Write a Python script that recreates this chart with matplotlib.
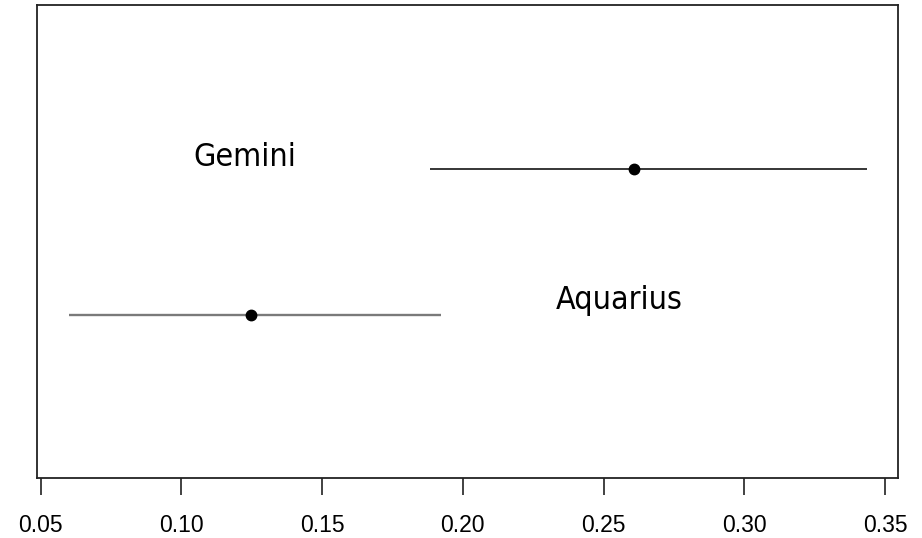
import matplotlib
matplotlib.use("Agg")
import matplotlib.pyplot as plt

# interval estimates per sign
signs = ["Gemini", "Aquarius"]
estimates = [0.2608, 0.1248]
lower = [0.1883, 0.0602]
upper = [0.3435, 0.1922]
rows = [2, 1]
line_colors = ["#000000", "#7a7a7a"]
line_widths = [1.1, 1.7]

# label positions (data coords)
label_x = [0.1225, 0.2555]
label_y = [2.08, 1.1]

ticks = [0.05, 0.10, 0.15, 0.20, 0.25, 0.30, 0.35]

fig = plt.figure(figsize=(9.22, 5.38), dpi=100)
ax = fig.add_axes([37 / 922, 1 - 478 / 538, (898 - 37) / 922, (478 - 5) / 538])

for i in range(len(signs)):
    ax.plot([lower[i], upper[i]], [rows[i], rows[i]], color=line_colors[i],
            lw=line_widths[i], solid_capstyle="butt", zorder=2)
    ax.plot(estimates[i], rows[i], "o", color="black", ms=7.5, zorder=3)
    ax.text(label_x[i], label_y[i], signs[i], family="DejaVu Sans",
            fontstretch="condensed", fontsize=23, ha="center", va="center")

ax.set_xlim(0.0487, 0.3546)
ax.set_ylim(-0.116, 3.123)
ax.set_xticks(ticks)
ax.set_xticklabels([f"{t:.2f}" for t in ticks], family="Liberation Sans", fontsize=16.5)
ax.set_yticks([])
ax.tick_params(axis="x", length=12, width=1.3, pad=14, color="#333333")
for s in ax.spines.values():
    s.set_linewidth(1.3)
    s.set_color("#222222")

fig.savefig("out.png", dpi=100)
